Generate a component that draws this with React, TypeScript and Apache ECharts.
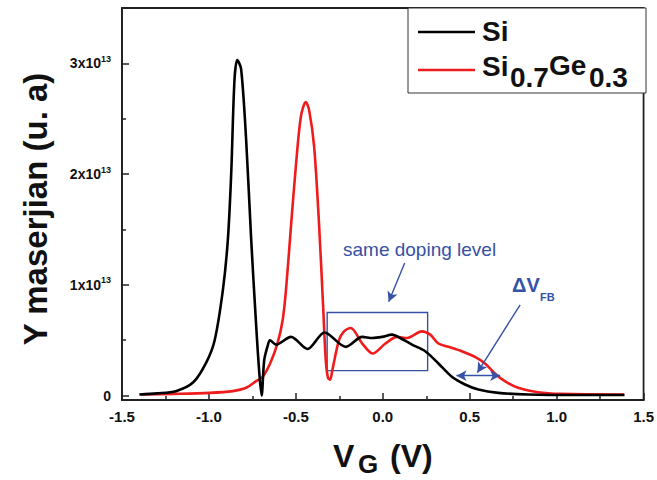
import { useEffect, useRef } from 'react';
import * as echarts from 'echarts';

// Gate voltage (V) and Maserjian Y (units of 1e13)
const siX = [-1.40, -1.30, -1.19, -1.09, -1.015, -0.967, -0.92, -0.891, -0.872, -0.853, -0.837, -0.815, -0.786, -0.757, -0.729, -0.71, -0.697, -0.682, -0.662, -0.649, -0.614, -0.528, -0.433, -0.335, -0.213, -0.118, -0.06, -0.004, 0.053, 0.10, 0.168, 0.244, 0.32, 0.397, 0.473, 0.55, 0.664, 0.836, 1.10, 1.39];
const siY = [0.01, 0.02, 0.04, 0.12, 0.30, 0.50, 0.95, 1.41, 2.0, 2.85, 3.03, 2.95, 2.31, 1.41, 0.65, 0.2, 0.0, 0.32, 0.45, 0.50, 0.46, 0.53, 0.42, 0.57, 0.44, 0.53, 0.52, 0.53, 0.55, 0.52, 0.46, 0.40, 0.29, 0.17, 0.10, 0.054, 0.024, 0.01, 0.005, 0.005];

const sgX = [-1.39, -1.2, -0.996, -0.863, -0.786, -0.729, -0.69, -0.645, -0.605, -0.576, -0.557, -0.528, -0.50, -0.471, -0.443, -0.424, -0.395, -0.366, -0.343, -0.328, -0.315, -0.303, -0.29, -0.252, -0.223, -0.185, -0.118, -0.058, 0.015, 0.082, 0.139, 0.225, 0.273, 0.32, 0.378, 0.454, 0.53, 0.588, 0.645, 0.702, 0.778, 0.893, 1.026, 1.389];
const sgY = [0.01, 0.015, 0.024, 0.04, 0.07, 0.13, 0.17, 0.30, 0.475, 0.68, 0.95, 1.53, 2.07, 2.52, 2.65, 2.58, 2.25, 1.53, 0.80, 0.32, 0.16, 0.144, 0.23, 0.50, 0.58, 0.61, 0.47, 0.38, 0.47, 0.53, 0.52, 0.58, 0.55, 0.47, 0.44, 0.40, 0.35, 0.29, 0.20, 0.13, 0.07, 0.03, 0.015, 0.01];

const X_MIN = -1.5;
const X_MAX = 1.5;
const X_STEP = 0.5;
const Y_MIN = -0.04;
const Y_MAX = 3.5;
const Y_EXP = '13';

// annotations in data coordinates
const boxFrom = [-0.32, 0.75];
const boxTo = [0.258, 0.225];
const dopingArrow = [[0.126, 1.198], [0.034, 0.847]];
const dvArrow = [[0.79, 0.82], [0.544, 0.207]];
const dvSpan = [[0.424, 0.18], [0.675, 0.18]];

const BLUE = '#3651a5';
const FONT = "'Liberation Sans', Arial, sans-serif";

export default function App() {
  const ref = useRef<HTMLDivElement>(null);
  useEffect(() => {
    if (!ref.current) return;
    const chart = echarts.init(ref.current, null, { renderer: 'svg' });
    const si = siX.map((x, i) => [x, siY[i]]);
    const sg = sgX.map((x, i) => [x, sgY[i]]);
    chart.setOption({
      animation: false,
      backgroundColor: '#fff',
      grid: { left: 122, right: 11, top: 8, bottom: 80, show: true, borderColor: '#222', borderWidth: 1.8, backgroundColor: 'transparent' },
      xAxis: {
        type: 'value', min: X_MIN, max: X_MAX, interval: X_STEP,
        axisLine: { show: true, onZero: false, lineStyle: { color: '#222', width: 1.8 } },
        axisTick: { show: true, inside: true, length: 7, lineStyle: { color: '#222', width: 1.5 } },
        minorTick: { show: true, splitNumber: 2, length: 4, lineStyle: { color: '#222', width: 1.5 } },
        splitLine: { show: false },
        axisLabel: { margin: 9, color: '#111', fontFamily: FONT, fontWeight: 'bold', fontSize: 15, formatter: (v: number) => v.toFixed(1) },
      },
      yAxis: {
        type: 'value', min: Y_MIN, max: Y_MAX, splitNumber: 4,
        axisLine: { show: true, onZero: false, lineStyle: { color: '#222', width: 1.8 } },
        axisTick: { show: true, inside: true, length: 7, lineStyle: { color: '#222', width: 1.5 } },
        minorTick: { show: true, splitNumber: 2, length: 4, lineStyle: { color: '#222', width: 1.5 } },
        splitLine: { show: false },
        axisLabel: {
          margin: 11, color: '#111', fontFamily: FONT, fontWeight: 'bold', fontSize: 14,
          showMinLabel: false, showMaxLabel: false,
          formatter: (v: number) => (Math.abs(v) < 1e-9 ? '{m|0}' : Number.isInteger(v) ? `{m|${v}x10}{s|${Y_EXP}}` : ''),
          rich: {
            m: { fontFamily: FONT, fontWeight: 'bold', fontSize: 14, color: '#111' },
            s: { fontFamily: FONT, fontSize: 9, color: '#111', padding: [0, 0, 9, 0] },
          },
        },
      },
      series: [
        {
          name: 'Si', type: 'line', data: si, smooth: 0.3, showSymbol: false,
          lineStyle: { color: '#000', width: 2.6 }, itemStyle: { color: '#000' }, z: 3,
          markArea: {
            silent: true,
            itemStyle: { color: 'rgba(0,0,0,0)', borderColor: BLUE, borderWidth: 1.4 },
            data: [[{ coord: boxFrom }, { coord: boxTo }]],
          },
          markLine: {
            silent: true, symbol: ['none', 'arrow'], symbolSize: [8, 10],
            label: { show: false },
            lineStyle: { color: BLUE, width: 1.4, type: 'solid' },
            data: [
              [{ coord: dopingArrow[0] }, { coord: dopingArrow[1] }],
              [{ coord: dvArrow[0] }, { coord: dvArrow[1] }],
            ],
          },
        },
        {
          name: 'Si0.7Ge0.3', type: 'line', data: sg, smooth: 0.3, showSymbol: false,
          lineStyle: { color: '#ee1c1c', width: 2.6 }, itemStyle: { color: '#ee1c1c' }, z: 2,
          markLine: {
            silent: true, symbol: ['arrow', 'arrow'], symbolSize: [8, 10],
            label: { show: false },
            lineStyle: { color: BLUE, width: 1.4, type: 'solid' },
            data: [[{ coord: dvSpan[0] }, { coord: dvSpan[1] }]],
          },
        },
      ],
      graphic: [
        { type: 'rect', shape: { x: 408, y: 8, width: 238, height: 85 }, style: { fill: '#fff', stroke: '#333', lineWidth: 1 }, z: 10 },
        { type: 'line', shape: { x1: 418, y1: 32, x2: 475, y2: 32 }, style: { stroke: '#000', lineWidth: 2.6 }, z: 11 },
        { type: 'line', shape: { x1: 418, y1: 70, x2: 475, y2: 70 }, style: { stroke: '#ee1c1c', lineWidth: 2.6 }, z: 11 },
        { type: 'text', x: 482, y: 31, style: { text: 'Si', font: `bold 28px ${FONT}`, fill: '#111', verticalAlign: 'middle' }, z: 11 },
        { type: 'text', x: 482, y: 66, style: { text: 'Si', font: `bold 28px ${FONT}`, fill: '#111', verticalAlign: 'middle' }, z: 11 },
        { type: 'text', x: 510, y: 77, style: { text: '0.7', font: `bold 28px ${FONT}`, fill: '#111', verticalAlign: 'middle' }, z: 11 },
        { type: 'text', x: 549, y: 65, style: { text: 'Ge', font: `bold 28px ${FONT}`, fill: '#111', verticalAlign: 'middle' }, z: 11 },
        { type: 'text', x: 589, y: 77, style: { text: '0.3', font: `bold 28px ${FONT}`, fill: '#111', verticalAlign: 'middle' }, z: 11 },
        { type: 'text', x: 35, y: 209, rotation: Math.PI / 2, style: { text: 'Y maserjian (u. a)', font: `bold 33px ${FONT}`, fill: '#111', align: 'center', verticalAlign: 'middle' } },
        { type: 'text', x: 333, y: 456, style: { text: 'V', font: `bold 32px ${FONT}`, fill: '#111', verticalAlign: 'middle' } },
        { type: 'text', x: 358, y: 464, style: { text: 'G', font: `bold 26px ${FONT}`, fill: '#111', verticalAlign: 'middle' } },
        { type: 'text', x: 390, y: 456, style: { text: '(V)', font: `bold 32px ${FONT}`, fill: '#111', verticalAlign: 'middle' } },
        { type: 'text', x: 343, y: 249, style: { text: 'same doping level', font: `19px ${FONT}`, fill: BLUE, verticalAlign: 'middle' } },
        { type: 'text', x: 512, y: 285, style: { text: '\u0394V', font: `bold 20px ${FONT}`, fill: BLUE, verticalAlign: 'middle' } },
        { type: 'text', x: 540, y: 297, style: { text: 'FB', font: `bold 11px ${FONT}`, fill: BLUE, verticalAlign: 'middle' } },
      ],
    });
    return () => chart.dispose();
  }, []);
  return <div ref={ref} style={{ position: 'fixed', left: 0, top: 0, width: 657, height: 480 }} />;
}
